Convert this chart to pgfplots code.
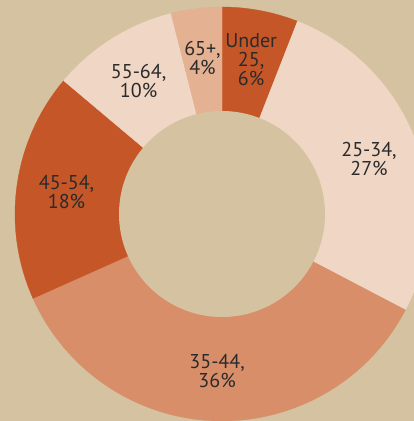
\documentclass[border=0pt]{standalone}
\usepackage{pgfplots}
\usepackage{pgfplotstable}
\pgfplotsset{compat=1.18}
\usepackage{fontspec}
\setmainfont{PT Sans}
\definecolor{bg}{HTML}{D5C2A0}
\definecolor{cdark}{HTML}{C55627}
\definecolor{clight}{HTML}{F0D6C5}
\definecolor{cmid}{HTML}{D98E6A}
\definecolor{cpeach}{HTML}{E4B192}
\definecolor{txt}{HTML}{2B2B2B}
\pgfplotstableread[col sep=comma]{
label,value,color
{Under\\25},6,cdark
25-34,27,clight
35-44,36,cmid
45-54,18,cdark
55-64,10,clight
65+,4,cpeach
}\agedata
\begin{document}
\begin{tikzpicture}
\begin{axis}[x=1pt,y=1pt,xmin=-222,xmax=192,ymin=-207,ymax=214,
  hide axis,scale only axis,clip mode=global]
\fill[bg] (rel axis cs:0,0) rectangle (rel axis cs:1,1);
\pgfplotstablegetrowsof{\agedata}\pgfmathtruncatemacro\nrows{\pgfplotsretval-1}
\def\total{0}
\pgfplotsforeachungrouped \i in {0,...,\nrows}{%
  \pgfplotstablegetelem{\i}{value}\of\agedata
  \pgfmathsetmacro\total{\total+\pgfplotsretval}}
\def\cum{0}
\pgfplotsforeachungrouped \i in {0,...,\nrows}{%
  \pgfplotstablegetelem{\i}{value}\of\agedata \let\val\pgfplotsretval
  \pgfplotstablegetelem{\i}{color}\of\agedata \let\col\pgfplotsretval
  \pgfplotstablegetelem{\i}{label}\of\agedata \let\lab\pgfplotsretval
  \pgfmathsetmacro\aA{90-360*(\cum/\total)}
  \pgfmathsetmacro\cum{\cum+\val}
  \pgfmathsetmacro\aB{90-360*(\cum/\total)}
  \pgfmathsetmacro\aM{(\aA+\aB)/2}
  \pgfmathsetmacro\xA{207*cos(\aA)}
  \pgfmathsetmacro\yA{207*sin(\aA)}
  \pgfmathsetmacro\xM{157*cos(\aM)}
  \pgfmathsetmacro\yM{157*sin(\aM)}
  \edef\temp{\noexpand\fill[\col,draw=\col,line width=0.3pt] (axis cs:0,0) -- (axis cs:\xA,\yA) arc[start angle=\aA,end angle=\aB,radius=207pt] -- cycle;}
  \temp
  \edef\temp{\noexpand\node[align=center,text=txt,inner sep=0pt,font=\noexpand\fontsize{20}{19}\noexpand\selectfont] at (axis cs:\xM,\yM) {\unexpanded\expandafter{\lab},\noexpand\\\val\noexpand\%};}
  \temp
}
\fill[bg] (axis cs:0,0) circle[radius=103pt];
\end{axis}
\end{tikzpicture}
\end{document}
